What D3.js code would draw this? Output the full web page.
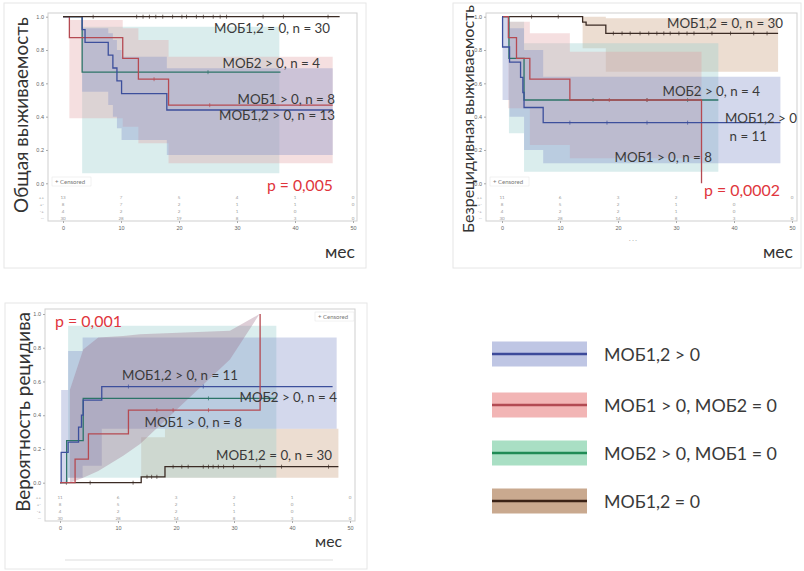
<!DOCTYPE html>
<html>
<head>
<meta charset="utf-8">
<script src="https://cdn.jsdelivr.net/npm/d3@7"></script>
<style>
body { margin: 0; background: #fff; }
svg { display: block; font-family: Lato, "Open Sans", sans-serif; }
</style>
</head>
<body>
<div id="chart"></div>
<script>

// time ticks shared by all three panels (months)
var timeTicks = [0, 10, 20, 30, 40, 50];
var riskRowNames = ["++", "+-", "-+", "--"];

// ---- Overall survival (Общая выживаемость): [time, value]
var osBlue  = [[0, 1], [3.3, 0.923], [3.8, 0.846], [7.8, 0.769], [8.6, 0.692], [9.3, 0.615], [10.1, 0.538], [17.9, 0.44], [46.5, 0.44]];
var osRed   = [[0, 1], [1.1, 0.875], [10.3, 0.75], [13.0, 0.625], [18.2, 0.469], [46.5, 0.469]];
var osTeal  = [[0, 1], [3.3, 0.667], [37.5, 0.667]];
var osBrown = [[0, 1], [47.7, 1]];
// confidence bands: [time, low, high]
var osBlueBand = [[3.3, 0.55, 0.93], [7.8, 0.47, 0.9], [8.6, 0.4, 0.86], [9.3, 0.33, 0.8], [10.1, 0.26, 0.76], [17.9, 0.17, 0.69], [46.5, 0.17, 0.69]];
var osRedBand  = [[1.1, 0.39, 0.98], [10.3, 0.34, 0.93], [13.0, 0.24, 0.86], [18.2, 0.12, 0.76], [46.5, 0.12, 0.76]];
var osTealBand = [[3.3, 0.06, 0.94], [37.3, 0.06, 0.94]];
// censored times
var osBrownCens = [5.2, 12.7, 13.8, 14.9, 16.0, 17.2, 18.9, 20.5, 21.3, 23.0, 24.2, 25.9, 27.1, 28.2, 34.5, 38.0, 45.7];
var osRedCens = [15.7, 25.3];
var osTealCens = [25];
var osBlueCens = [];
// numbers at risk (rows: МОБ1,2>0, МОБ1>0, МОБ2>0, МОБ1,2=0)
var osRisk = [[13, 7, 5, 4, 1, 0], [8, 7, 2, 1, 1, 0], [4, 2, 2, 1, 0, null], [30, 28, 19, 8, 3, 0]];

// ---- Disease-free survival (Безрецидивная выживаемость)
var dfsBlue  = [[0, 1], [0.1, 0.818], [1.3, 0.727], [3.2, 0.636], [3.6, 0.545], [3.8, 0.455], [7.1, 0.364], [48, 0.364]];
var dfsRed   = [[0, 1], [1.1, 0.875], [2.5, 0.75], [4.8, 0.625], [11.7, 0.5], [34.4, 0]];
var dfsTeal  = [[0, 1], [1.2, 0.75], [3.8, 0.5], [37.3, 0.5]];
var dfsBrown = [[0, 1], [13.9, 0.967], [14.5, 0.95], [17.9, 0.9], [47.6, 0.9]];
var dfsBlueBand  = [[0.1, 0.5, 1.0], [1.3, 0.4, 0.93], [3.8, 0.2, 0.8], [7.1, 0.12, 0.64], [48, 0.12, 0.64]];
var dfsRedBand   = [[1.1, 0.45, 0.97], [4.8, 0.23, 0.9], [11.7, 0.15, 0.79], [34.4, 0.15, 0.79]];
var dfsTealBand  = [[1.2, 0.3, 0.97], [3.8, 0.07, 0.84], [37.3, 0.07, 0.84]];
var dfsBrownBand = [[13.9, 0.81, 1.0], [17.9, 0.67, 0.99], [47.6, 0.67, 0.99]];
var dfsBrownCens = [5.1, 9.7, 19.2, 20.7, 22.1, 23.8, 25.3, 26.7, 27.9, 29.0, 30.5, 31.9, 33.1, 36.2, 39.4, 43.4, 45.7];
var dfsRedCens = [18.5, 25];
var dfsTealCens = [15.7, 25, 32];
var dfsBlueCens = [11.7, 18.1, 25, 32];
// the value at 40 months in the first row is hidden under the p-value in the source
var dfsRisk = [[11, 6, 3, 2, null, 0], [8, 5, 2, 1, 0, null], [4, 2, 2, 1, 0, null], [30, 28, 14, 8, 3, 0]];

// ---- Cumulative relapse (Вероятность рецидива)
var relBlue  = [[0, 0], [0.2, 0.18], [1.4, 0.24], [3.2, 0.33], [3.7, 0.4], [4.0, 0.49], [7.2, 0.57], [47, 0.57]];
var relRed   = [[0, 0], [2.6, 0.14], [4.9, 0.29], [11.8, 0.43], [34.5, 1.0]];
var relTeal  = [[0, 0], [1.15, 0.25], [4.0, 0.5], [37.3, 0.5]];
var relBrown = [[0, 0], [14, 0.035], [18.1, 0.095], [48, 0.095]];
var relBlueBand  = [[0.2, 0.0, 0.55], [1.4, 0.03, 0.78], [3.9, 0.1, 0.86], [7.2, 0.32, 0.86], [47.7, 0.32, 0.86]];
var relRedBand   = [[1.7, 0.0, 0.55], [4.0, 0.03, 0.79], [6.6, 0.07, 0.86], [10.9, 0.16, 0.87], [13.8, 0.23, 0.88], [29.3, 0.73, 0.9], [34.4, 1.0, 1.0]];
var relTealBand  = [[1.4, 0.03, 0.93], [37.3, 0.03, 0.93]];
var relBrownBand = [[14, 0.03, 0.27], [18.1, 0.03, 0.32], [48, 0.03, 0.32]];
var relBrownCens = [1.1, 5.2, 12.6, 15, 15.8, 16.7, 19.5, 21, 22.1, 24.7, 25.6, 26.4, 27.3, 28.2, 29.9, 34.5, 38.2, 46.3];
var relBlueCens = [11.8, 24.7];
var relRedCens = [16.7, 19.5, 25.6];
var relTealCens = [25.6];
var relRisk = [[11, 6, 3, 2, 1, 0], [8, 5, 2, 1, 0, null], [4, 2, 2, 1, 0, null], [30, 28, 14, 8, 3, 0]];

// ---- legend
var legendNames = ["МОБ1,2 > 0", "МОБ1 > 0, МОБ2 = 0", "МОБ2 > 0, МОБ1 = 0", "МОБ1,2 = 0"];

var col = {
    blue:  {line: "#3c4f9c", band: "#7d8cc8", op: 0.34, sw: "#bfc6e4", lg: "#3c4a9a"},
    red:   {line: "#b54a52", band: "#e09a9e", op: 0.32, sw: "#f2b5b5", lg: "#b24a52"},
    teal:  {line: "#2c7468", band: "#9fd0d0", op: 0.38, sw: "#a9dfc4", lg: "#1f8b55"},
    brown: {line: "#3b2b24", band: "#c9a080", op: 0.36, sw: "#c9a98f", lg: "#3a2216"}
};

var svg = d3.select("#chart").append("svg")
    .attr("width", 804)
    .attr("height", 571);

svg.append("rect").attr("width", 804).attr("height", 571).attr("fill", "#fff");

// set font-size so the text spans w pixels
function fit(sel, w) {
    var len = sel.node().getComputedTextLength();
    var fs = parseFloat(sel.attr("font-size"));
    sel.attr("font-size", (fs * w / len).toFixed(2));
    return sel;
}

// one size for all curve labels, taken from the longest label
var probe = svg.append("text").attr("font-size", 14).text("МОБ1,2 = 0, n = 30");
fit(probe, 116);
var labelSize = +probe.attr("font-size");
probe.remove();

function stepAt(pts, t) {
    var v = pts[0][1];
    pts.forEach(function (p) { if (p[0] <= t) v = p[1]; });
    return v;
}

function drawPanel(p) {
    var g = svg.append("g");

    var x = d3.scaleLinear().domain([0, 50]).range([p.x0, p.x1]);
    var y = d3.scaleLinear().domain([0, 1]).range([p.yBot, p.yTop]);

    // outer light border
    g.append("rect")
        .attr("x", p.border[0]).attr("y", p.border[1])
        .attr("width", p.border[2] - p.border[0]).attr("height", p.border[3] - p.border[1])
        .attr("fill", "none").attr("stroke", "#e6e6e6");

    // bands
    p.series.forEach(function (s) {
        if (!s.band) return;
        var area = d3.area()
            .x(function (d) { return x(d[0]); })
            .y0(function (d) { return y(d[1]); })
            .y1(function (d) { return y(d[2]); })
            .curve(s.linearBand ? d3.curveLinear : d3.curveStepAfter);
        g.append("path").datum(s.band)
            .attr("d", area)
            .attr("fill", s.bandColor || col[s.c].band)
            .attr("fill-opacity", s.op || col[s.c].op);
    });

    // curves
    var line = d3.line()
        .x(function (d) { return x(d[0]); })
        .y(function (d) { return y(d[1]); })
        .curve(d3.curveStepAfter);
    p.series.forEach(function (s) {
        g.append("path").datum(s.pts)
            .attr("d", line)
            .attr("fill", "none")
            .attr("stroke", col[s.c].line)
            .attr("stroke-width", 1.3);
        g.selectAll(null).data(s.cens).enter().append("line")
            .attr("x1", function (d) { return x(d); })
            .attr("x2", function (d) { return x(d); })
            .attr("y1", function (d) { return y(stepAt(s.pts, d)) - 2; })
            .attr("y2", function (d) { return y(stepAt(s.pts, d)) + 2; })
            .attr("stroke", col[s.c].line)
            .attr("stroke-width", 0.7);
    });

    // plot frame
    g.append("rect")
        .attr("x", p.frame[0]).attr("y", p.frame[1])
        .attr("width", p.frame[2] - p.frame[0]).attr("height", p.frame[3] - p.frame[1])
        .attr("fill", "none").attr("stroke", "#cfcfcf");

    // axes
    var xAxis = g.append("g")
        .attr("transform", "translate(0," + p.frame[3] + ")")
        .call(d3.axisBottom(x).tickValues(timeTicks).tickSize(2).tickPadding(3));
    var yAxis = g.append("g")
        .attr("transform", "translate(" + p.frame[0] + ",0)")
        .call(d3.axisLeft(y).ticks(5).tickFormat(d3.format(".1f")).tickSize(2).tickPadding(2));
    [xAxis, yAxis].forEach(function (a) {
        a.select(".domain").remove();
        a.selectAll("line").attr("stroke", "#aaa");
        a.selectAll("text").attr("fill", "#666").attr("font-size", 5.5);
    });

    // numbers at risk
    var rowOff = [-22, -15.5, -8.5, -1.5];
    p.risk.forEach(function (row, i) {
        g.append("text")
            .attr("x", p.frame[0] - 4).attr("y", p.frame[3] + rowOff[i])
            .attr("text-anchor", "end").attr("font-size", 4.5).attr("fill", "#999")
            .text(riskRowNames[i]);
        row.forEach(function (v, j) {
            if (v === null) return;
            g.append("text")
                .attr("x", x(timeTicks[j])).attr("y", p.frame[3] + rowOff[i])
                .attr("text-anchor", "middle").attr("font-size", 4.5).attr("fill", "#999")
                .text(v);
        });
    });

    // censored legend box
    var cb = g.append("g").attr("transform", "translate(" + p.cens[0] + "," + p.cens[1] + ")");
    cb.append("rect").attr("width", 39).attr("height", 9)
        .attr("fill", "#fff").attr("fill-opacity", 0.6).attr("stroke", "#e4e4e4").attr("stroke-width", 0.5);
    cb.append("text").attr("x", 3).attr("y", 6.5).attr("font-size", 6).attr("fill", "#777").text("+ Censored");

    // curve labels
    p.labels.forEach(function (l) {
        g.append("text")
            .attr("x", l[1]).attr("y", l[2])
            .attr("text-anchor", "end")
            .attr("font-size", labelSize).attr("fill", "#3a3a3a")
            .text(l[0]);
    });

    // p-value
    fit(g.append("text")
        .attr("x", p.pv[1]).attr("y", p.pv[2])
        .attr("font-size", 15).attr("fill", "#e0353c")
        .text(p.pv[0]), p.pv[3]);

    // y title
    fit(g.append("text")
        .attr("transform", "translate(" + p.title[1] + "," + p.title[2] + ") rotate(-90)")
        .attr("text-anchor", "middle").attr("dominant-baseline", "central")
        .attr("font-size", 18).attr("fill", "#333")
        .text(p.title[0]), p.title[3]);

    // x unit
    fit(g.append("text")
        .attr("x", p.mes[0]).attr("y", p.mes[1])
        .attr("text-anchor", "end")
        .attr("font-size", 18).attr("fill", "#333")
        .text("мес"), p.mes[2]);

    return g;
}

drawPanel({
    x0: 63, x1: 353, yTop: 16.7, yBot: 183.3,
    frame: [48, 13, 357, 221], border: [4, 3, 366, 268],
    series: [
        {c: "teal", pts: osTeal, band: osTealBand, cens: osTealCens},
        {c: "red", pts: osRed, band: osRedBand, cens: osRedCens},
        {c: "blue", pts: osBlue, band: osBlueBand, cens: osBlueCens},
        {c: "brown", pts: osBrown, band: null, cens: osBrownCens}
    ],
    risk: osRisk, cens: [52, 177],
    labels: [["МОБ1,2 = 0, n = 30", 330, 33], ["МОБ2 > 0, n = 4", 320, 68],
             ["МОБ1 > 0, n = 8", 335, 104], ["МОБ1,2 > 0, n = 13", 335, 120]],
    pv: ["p = 0,005", 267, 191, 66],
    title: ["Общая выживаемость", 20, 115, 196],
    mes: [355, 258, 30]
});

var dfsPanel = drawPanel({
    x0: 502, x1: 792, yTop: 16.7, yBot: 183.3,
    frame: [486, 13, 797, 221], border: [453, 3, 801, 268],
    series: [
        {c: "brown", pts: dfsBrown, band: dfsBrownBand, cens: dfsBrownCens},
        {c: "teal", pts: dfsTeal, band: dfsTealBand, cens: dfsTealCens},
        {c: "red", pts: dfsRed, band: dfsRedBand, cens: dfsRedCens},
        {c: "blue", pts: dfsBlue, band: dfsBlueBand, cens: dfsBlueCens}
    ],
    risk: dfsRisk, cens: [490, 177],
    labels: [["МОБ1,2 = 0, n = 30", 783, 28], ["МОБ2 > 0, n = 4", 760, 96],
             ["МОБ1,2 > 0", 797, 123], ["n = 11", 767, 141],
             ["МОБ1 > 0, n = 8", 712, 162]],
    pv: ["p = 0,0002", 704, 196, 76],
    title: ["Безрецидивная выживаемость", 467, 119, 228],
    mes: [793, 258, 30]
});
dfsPanel.append("text").attr("x", 633).attr("y", 242).attr("text-anchor", "middle")
    .attr("font-size", 6).attr("fill", "#aaa").text("· · ·");

var relPanel = drawPanel({
    x0: 60, x1: 350, yTop: 314, yBot: 482.7,
    frame: [45, 309, 355, 521], border: [5, 303, 367, 569],
    series: [
        {c: "brown", pts: relBrown, band: relBrownBand, cens: relBrownCens},
        {c: "teal", pts: relTeal, band: relTealBand, cens: relTealCens},
        {c: "blue", pts: relBlue, band: relBlueBand, cens: relBlueCens},
        {c: "red", pts: relRed, band: relRedBand, linearBand: true, cens: relRedCens,
         bandColor: "#9a6a86", op: 0.33}
    ],
    risk: relRisk, cens: [315, 312],
    labels: [["МОБ1,2 > 0, n = 11", 238, 380], ["МОБ2 > 0, n = 4", 337, 402],
             ["МОБ1 > 0, n = 8", 242, 427], ["МОБ1,2 = 0, n = 30", 332, 460]],
    pv: ["p = 0,001", 55, 327, 67],
    title: ["Вероятность рецидива", 22, 412, 200],
    mes: [342, 547, 27]
});
relPanel.append("line").attr("x1", 65).attr("x2", 333).attr("y1", 560).attr("y2", 560)
    .attr("stroke", "#ddd");

// legend
var legendY = [354, 405, 453, 501];
var legendKeys = ["blue", "red", "teal", "brown"];
var lg = svg.append("g");
legendNames.forEach(function (name, i) {
    var c = col[legendKeys[i]];
    lg.append("rect")
        .attr("x", 492).attr("y", legendY[i] - 12.5)
        .attr("width", 95).attr("height", 25)
        .attr("fill", c.sw);
    lg.append("line")
        .attr("x1", 492).attr("x2", 587)
        .attr("y1", legendY[i]).attr("y2", legendY[i])
        .attr("stroke", c.lg).attr("stroke-width", 2.5);
    var t = lg.append("text")
        .attr("x", 604).attr("y", legendY[i] + 6.5)
        .attr("font-size", 18).attr("fill", "#3a3a3a")
        .text(name);
    fit(t, i === 0 || i === 3 ? 96 : 173);
});

</script>
</body>
</html>
